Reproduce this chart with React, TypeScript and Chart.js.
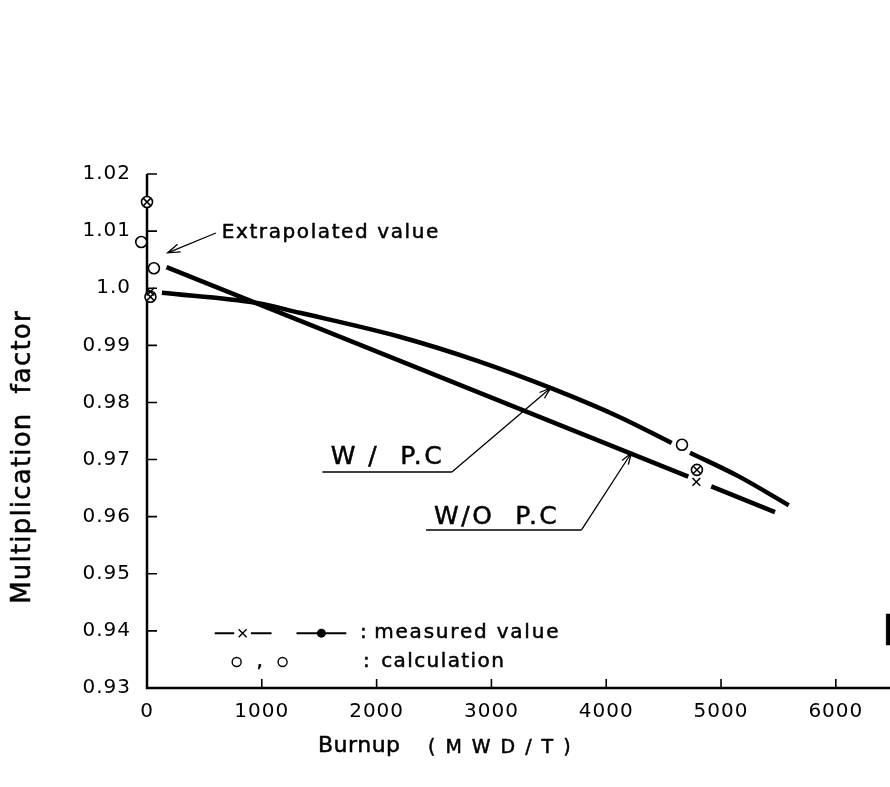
import React, { useEffect, useRef } from 'react';
import { Chart, registerables } from 'chart.js';

Chart.register(...registerables);

// ---------- data ----------
const xTickValues = [0, 1000, 2000, 3000, 4000, 5000, 6000];
const xTickLabels = ['0', '1000', '2000', '3000', '4000', '5000', '6000'];
const yTickValues = [0.93, 0.94, 0.95, 0.96, 0.97, 0.98, 0.99, 1.0, 1.01, 1.02];
const yTickLabels = ['0.93', '0.94', '0.95', '0.96', '0.97', '0.98', '0.99', '1.0', '1.01', '1.02'];

// W/ P.C (curved) — null marks the break around the calculated point
const withPcBurnup = [130, 955, 1330, 2200, 2890, 3520, 4110, 4570, 4650, 4730, 5150, 5590];
const withPcK = [0.9992, 0.9974, 0.9957, 0.9915, 0.9872, 0.9825, 0.9775, 0.9729, null, 0.9712, 0.9671, 0.962];

// W/O P.C (straight)
const withoutPcBurnup = [170, 4715, 4800, 4915, 5470];
const withoutPcK = [1.0037, 0.967, null, 0.9653, 0.9608];

// calculation (open circles)
const calcBurnup = [-50, 60, 4660];
const calcK = [1.0081, 1.0035, 0.9726];

// measured (circle with cross)
const measOBurnup = [0, 30, 4790];
const measOK = [1.0151, 0.9985, 0.9682];

// measured (x)
const measXBurnup = [30, 4785];
const measXK = [0.9994, 0.9661];

const yTitle = 'Multiplication  factor';
const xTitleMain = 'Burnup';
const xTitleUnit = '(MWD/T)';
const extrapText = 'Extrapolated value';
const withPcText = 'W /  P.C';
const withoutPcText = 'W/O  P.C';
const legendMeasured = 'measured value';
const legendCalc = 'calculation';

const FONT = '"DejaVu Sans", sans-serif';

const pts = (xs: number[], ys: (number | null)[]) => xs.map((x, i) => ({ x, y: ys[i] }));

function text(
  ctx: CanvasRenderingContext2D,
  s: string,
  x: number,
  y: number,
  size: number,
  spacing = 0,
  align: CanvasTextAlign = 'left',
  baseline: CanvasTextBaseline = 'middle',
  bold = 0.5
) {
  ctx.font = `${size}px ${FONT}`;
  (ctx as any).letterSpacing = `${spacing}px`;
  ctx.textAlign = align;
  ctx.textBaseline = baseline;
  ctx.fillStyle = '#000';
  ctx.fillText(s, x, y);
  if (bold > 0) {
    ctx.lineWidth = bold;
    ctx.strokeStyle = '#000';
    ctx.strokeText(s, x, y);
  }
}

function arrow(ctx: CanvasRenderingContext2D, x1: number, y1: number, x2: number, y2: number, head = 11) {
  ctx.beginPath();
  ctx.moveTo(x1, y1);
  ctx.lineTo(x2, y2);
  const a = Math.atan2(y2 - y1, x2 - x1);
  const da = 0.32;
  ctx.moveTo(x2 - head * Math.cos(a - da), y2 - head * Math.sin(a - da));
  ctx.lineTo(x2, y2);
  ctx.lineTo(x2 - head * Math.cos(a + da), y2 - head * Math.sin(a + da));
  ctx.stroke();
}

const decorPlugin = {
  id: 'decor',
  beforeDraw(chart: any) {
    (chart.ctx as any).letterSpacing = '1px';
  },
  beforeDatasetsDraw(chart: any) {
    const { ctx, scales } = chart;
    const x = scales.x, y = scales.y;
    const x0 = x.getPixelForValue(0);
    const yb = y.getPixelForValue(0.93);
    ctx.save();
    (ctx as any).letterSpacing = '0px';
    ctx.strokeStyle = '#000';
    ctx.lineWidth = 2.5;
    ctx.beginPath();
    ctx.moveTo(x0, yb + 1.25);
    ctx.lineTo(x0, y.getPixelForValue(1.02));
    ctx.moveTo(x0 - 1.25, yb);
    ctx.lineTo(chart.width, yb);
    ctx.stroke();
    ctx.lineWidth = 1.6;
    ctx.beginPath();
    yTickValues.forEach((v) => {
      if (v === 0.93) return;
      const py = y.getPixelForValue(v);
      ctx.moveTo(x0, py);
      ctx.lineTo(x0 + 10, py);
    });
    xTickValues.forEach((v) => {
      if (v === 0) return;
      const px = x.getPixelForValue(v);
      ctx.moveTo(px, yb);
      ctx.lineTo(px, yb - 9);
    });
    ctx.stroke();
    ctx.restore();
  },
  afterDatasetsDraw(chart: any) {
    const { ctx, chartArea, scales } = chart;
    const X = (v: number) => scales.x.getPixelForValue(v);
    const Y = (v: number) => scales.y.getPixelForValue(v);
    ctx.save();
    ctx.strokeStyle = '#000';
    ctx.fillStyle = '#000';

    // Extrapolated value
    text(ctx, extrapText, X(651), Y(1.00967), 20, 1.6);
    ctx.lineWidth = 1.3;
    arrow(ctx, X(600), Y(1.00967), X(180), Y(1.0062), 13);

    // W / P.C
    text(ctx, withPcText, X(1600), Y(0.9703), 25, 2.5);
    ctx.lineWidth = 1.6;
    ctx.beginPath();
    ctx.moveTo(X(1528), Y(0.96782));
    ctx.lineTo(X(2656), Y(0.96782));
    ctx.stroke();
    ctx.lineWidth = 1.3;
    arrow(ctx, X(2656), Y(0.96782), X(3516), Y(0.98253), 12);

    // W/O P.C
    text(ctx, withoutPcText, X(2500), Y(0.95994), 25, 2.5);
    ctx.lineWidth = 1.6;
    ctx.beginPath();
    ctx.moveTo(X(2431), Y(0.95767));
    ctx.lineTo(X(3785), Y(0.95767));
    ctx.stroke();
    ctx.lineWidth = 1.3;
    arrow(ctx, X(3785), Y(0.95767), X(4219), Y(0.97115), 12);

    // legend row 1
    const r1 = Y(0.9396);
    ctx.lineWidth = 2;
    ctx.beginPath();
    ctx.moveTo(X(590), r1); ctx.lineTo(X(760), r1);
    ctx.moveTo(X(905), r1); ctx.lineTo(X(1085), r1);
    ctx.moveTo(X(1302), r1); ctx.lineTo(X(1736), r1);
    ctx.stroke();
    ctx.lineWidth = 1.4;
    const cx = X(833);
    ctx.beginPath();
    ctx.moveTo(cx - 4, r1 - 4); ctx.lineTo(cx + 4, r1 + 4);
    ctx.moveTo(cx - 4, r1 + 4); ctx.lineTo(cx + 4, r1 - 4);
    ctx.stroke();
    ctx.beginPath();
    ctx.arc(X(1519), r1, 4.5, 0, Math.PI * 2);
    ctx.fill();
    text(ctx, ':', X(1884), r1, 20, 0, 'center');
    text(ctx, legendMeasured, X(1979), r1, 20, 1.8);

    // legend row 2
    const r2 = Y(0.93455);
    ctx.lineWidth = 1.4;
    ctx.beginPath();
    ctx.arc(X(781), r2, 4.5, 0, Math.PI * 2);
    ctx.stroke();
    ctx.beginPath();
    ctx.arc(X(1181), r2, 4.5, 0, Math.PI * 2);
    ctx.stroke();
    text(ctx, ',', X(981), r2, 20, 0, 'center');
    text(ctx, ':', X(1910), r2, 20, 0, 'center');
    text(ctx, legendCalc, X(2040), r2, 20, 1.4);

    // axis titles
    ctx.save();
    ctx.translate(23, (chartArea.top + chartArea.bottom) / 2 + 26);
    ctx.rotate(-Math.PI / 2);
    text(ctx, yTitle, 0, 0, 26, 1.2, 'center');
    ctx.restore();
    text(ctx, xTitleMain, 318, 746, 22, 0.5);
    text(ctx, xTitleUnit, 428, 748, 19, 10);

    // cut-off figure label at the right edge
    text(ctx, 'F', chart.width - 8, Y(0.9375), 42, 0, 'left', 'alphabetic');

    (ctx as any).letterSpacing = '0px';
    ctx.restore();
  },
};

export default function App() {
  const ref = useRef<HTMLCanvasElement>(null);
  useEffect(() => {
    const markerBase = { type: 'line' as const, showLine: false, clip: false as any };
    const chart = new Chart(ref.current!, {
      type: 'line',
      data: {
        datasets: [
          {
            ...markerBase,
            label: 'measured x',
            data: pts(measXBurnup, measXK),
            pointStyle: 'crossRot',
            pointRadius: 5.5,
            pointBorderWidth: 1.5,
            pointBorderColor: '#000',
          },
          {
            ...markerBase,
            label: 'measured cross',
            data: pts(measOBurnup, measOK),
            pointStyle: 'crossRot',
            pointRadius: 5.5,
            pointBorderWidth: 1.5,
            pointBorderColor: '#000',
          },
          {
            ...markerBase,
            label: 'measured circle',
            data: pts(measOBurnup, measOK),
            pointStyle: 'circle',
            pointRadius: 5.5,
            pointBorderWidth: 1.6,
            pointBorderColor: '#000',
            pointBackgroundColor: '#fff',
          },
          {
            ...markerBase,
            label: 'calculation',
            data: pts(calcBurnup, calcK),
            pointStyle: 'circle',
            pointRadius: 5.5,
            pointBorderWidth: 1.6,
            pointBorderColor: '#000',
            pointBackgroundColor: '#fff',
          },
          {
            label: 'W/ P.C',
            data: pts(withPcBurnup, withPcK),
            borderColor: '#000',
            borderWidth: 4.5,
            pointRadius: 0,
            cubicInterpolationMode: 'monotone',
            spanGaps: false,
            fill: false,
          },
          {
            label: 'W/O P.C',
            data: pts(withoutPcBurnup, withoutPcK),
            borderColor: '#000',
            borderWidth: 4.5,
            pointRadius: 0,
            tension: 0,
            spanGaps: false,
            fill: false,
          },
        ] as any,
      },
      options: {
        animation: false,
        responsive: false,
        devicePixelRatio: 1,
        events: [],
        layout: { padding: { top: 174, right: 0, left: 0, bottom: 0 } },
        plugins: { legend: { display: false }, tooltip: { enabled: false } },
        scales: {
          x: {
            type: 'linear',
            min: 0,
            max: 6410,
            grid: { display: false, drawTicks: false },
            border: { display: false },
            afterBuildTicks: (s: any) => {
              s.ticks = xTickValues.map((v) => ({ value: v }));
            },
            afterFit: (s: any) => {
              s.height = 99;
            },
            ticks: {
              color: '#000',
              font: { family: FONT, size: 20 },
              padding: 12,
              maxRotation: 0,
              autoSkip: false,
              callback: (_v: any, i: number) => xTickLabels[i],
            },
          },
          y: {
            type: 'linear',
            min: 0.93,
            max: 1.02,
            grid: { display: false, drawTicks: false },
            border: { display: false },
            afterBuildTicks: (s: any) => {
              s.ticks = yTickValues.map((v) => ({ value: v }));
            },
            afterFit: (s: any) => {
              s.width = 147;
            },
            ticks: {
              color: '#000',
              font: { family: FONT, size: 20 },
              padding: 16,
              autoSkip: false,
              callback: (_v: any, i: number) => yTickLabels[i],
            },
          },
        },
      } as any,
      plugins: [decorPlugin],
    });
    return () => chart.destroy();
  }, []);
  return (
    <div style={{ position: 'absolute', left: 0, top: 0, width: 890, height: 787, background: '#fff' }}>
      <canvas ref={ref} width={890} height={787} style={{ display: 'block' }} />
    </div>
  );
}
